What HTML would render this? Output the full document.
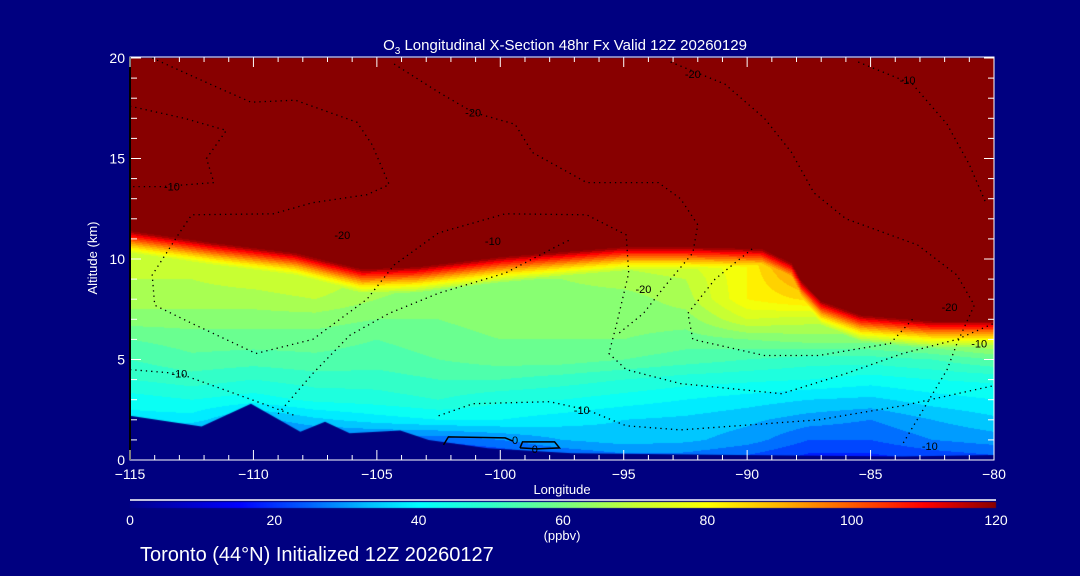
<!DOCTYPE html>
<html><head><meta charset="utf-8">
<style>
html,body{margin:0;padding:0;background:#000080;}
#wrap{position:relative;width:1080px;height:576px;background:#000080;overflow:hidden;font-family:"Liberation Sans",sans-serif;}
canvas{position:absolute;left:0;top:0;}
svg{position:absolute;left:0;top:0;}
text{fill:#fff;font-family:"Liberation Sans",sans-serif;}
</style></head>
<body>
<div id="wrap">
<canvas id="field" width="1080" height="576"></canvas>
<svg id="ov" width="1080" height="576"></svg>
</div>
<script>
// ---- data ----
const lonGrid = [-115,-112.5,-110,-107.5,-105,-102.5,-100,-97.5,-95,-92.5,-90,-87.5,-85,-82.5,-80];
const altGrid = [0,1,2,3,4,5,6,7,8,9,10];
const ozone0 = [15,15,15,15,15,15,18,22,25,25,22,18,18,20,22];
const ozone1 = [25,25,25,25,25,25,28,32,34,33,30,24,24,28,30];
const ozone2 = [38,38,30,35,38,40,40,38,36,35,33,30,28,32,35];
const ozone3 = [42,44,42,45,46,48,45,44,42,40,38,36,35,38,40];
const ozone4 = [48,50,48,50,50,52,52,50,48,46,45,44,42,44,45];
const ozone5 = [52,55,54,55,54,56,58,58,56,54,52,50,50,52,56];
const ozone6 = [56,58,58,58,56,58,60,60,60,58,60,62,62,66,72];
const ozone7 = [62,62,62,62,60,60,62,62,62,62,72,70,70,82,120];
const ozone8 = [66,66,66,68,64,62,62,62,62,66,80,85,100,125,130];
const ozone9 = [68,68,70,72,66,64,64,64,66,68,80,95,125,130,130];
const ozone10 = [70,70,72,75,70,68,68,68,70,72,80,105,130,130,130];
const tropoLon = [-115,-111.6,-108.3,-107,-105.6,-103.4,-100,-95,-92.7,-89.4,-88.2,-87.8,-87,-85.4,-82.5,-80];
const tropoAlt = [11.5,10.9,10.4,10.0,9.6,9.7,10.2,10.7,10.7,10.6,9.9,9.0,8.0,7.3,7.0,7.0];
const terrainLon = [-115,-112.1,-110.1,-108.1,-107.1,-106.1,-104.05,-102.9,-100.5,-97.1,-90.4,-83.7,-80];
const terrainAlt = [2.2,1.67,2.8,1.4,1.9,1.33,1.47,1.0,0.58,0.33,0.25,0.17,0.25];
const xTicks = [-115,-110,-105,-100,-95,-90,-85,-80];
const yTicks = [0,5,10,15,20];
const cbTicks = [0,20,40,60,80,100,120];
// contours: [lon, alt] pairs
const contourA = [[-115,17.6],[-112.8,17],[-111.1,16.4],[-111.9,15],[-111.6,13.8],[-113.7,13.6],[-115,13.6]];
const contourB = [[-114.1,20],[-111.4,18.5],[-110.1,17.8],[-108.3,17.9],[-105.8,16.8],[-105.2,15.7],[-104.5,13.7],[-105.4,13.2],[-107.6,12.8],[-109.2,12.25],[-112.5,12.2],[-113,11.3],[-114.1,9.2],[-114,7.7],[-112.5,6.8],[-109.9,5.3],[-107.6,6],[-105.4,8],[-104.3,9.7],[-102.5,11.3],[-99.8,12.25],[-96.5,12.2],[-94.9,11.2],[-94.8,9.3],[-95.3,6.7],[-95.6,5.3],[-94.9,4.5],[-92.7,3.8],[-88.6,3.3],[-86,4.3],[-83.7,5.3],[-81.5,6],[-80,6.8]];
const contourC = [[-104.3,19.7],[-102.5,18.3],[-101.1,17.3],[-99.4,16.7],[-98.7,15.3],[-96.5,13.8],[-93.6,13.8],[-92.7,13],[-92,11.7],[-92.2,10.3],[-93.3,8.7],[-94.2,7.3],[-95.3,6.2]];
const contourD = [[-93.1,19.8],[-90.9,18.7],[-89.3,17],[-88.2,15.3],[-87.3,13.3],[-86,12],[-83.1,10.7],[-81.5,9.2],[-80.8,7.7],[-81.5,5.8],[-81.9,4.5],[-83.7,0.8]];
const contourE = [[-85.5,19.8],[-83.3,18.7],[-81.9,16.7],[-81,14.7],[-80.3,12.7]];
const contourF = [[-115,4.5],[-113,4.3],[-111.2,3.5],[-109.4,2.7],[-108.3,2.2]];
const contourG = [[-102.5,2.2],[-101.1,2.8],[-98,2.9],[-96.5,2.5],[-94.9,1.7],[-92.7,1.5],[-90.4,1.7],[-87.1,2],[-83.7,2.7],[-80,3.7]];
const contourH = [[-109,2.3],[-107.6,4.3],[-106.1,6.2],[-104.5,7.3],[-102.5,8.3],[-99.8,9.3],[-97.6,10.7],[-97.1,11]];
const contourI = [[-89.8,10.5],[-91.3,9],[-92.4,7.3],[-92.2,6],[-89.3,5.2],[-87.1,5.2],[-84.2,5.8],[-83.3,7]];
const zeroA = [[-102.3,0.75],[-102.1,1.15],[-99.8,1.1],[-99.5,0.95]];
const zeroB = [[-99.2,0.6],[-99.1,0.9],[-97.8,0.9],[-97.6,0.6],[-98.5,0.55],[-99.2,0.6]];
const contourLabels = [["-10",-113.3,13.6],["-20",-101.1,17.3],["-20",-92.2,19.2],["-10",-83.5,18.9],["-20",-106.4,11.2],["-10",-100.3,10.9],["-20",-94.2,8.5],["-20",-81.8,7.6],["-10",-80.6,5.8],["-10",-113,4.3],["-10",-96.7,2.5],["-10",-82.6,0.7],["0",-99.4,1.0],["0",-98.6,0.55]];

// ---- axes ----
const X0=130,X1=994,Y0=460,Y1=58;
const xs = lon => X0 + (lon+115)/35*(X1-X0);
const ys = alt => Y0 - alt/20*(Y0-Y1);
const cbx = v => 130 + v/120*(996-130);

const rows=[ozone0,ozone1,ozone2,ozone3,ozone4,ozone5,ozone6,ozone7,ozone8,ozone9,ozone10];
function interp1(xa,ya,x){
  if(x<=xa[0]) return ya[0];
  for(let i=1;i<xa.length;i++){ if(x<=xa[i]){const t=(x-xa[i-1])/(xa[i]-xa[i-1]);return ya[i-1]+t*(ya[i]-ya[i-1]);} }
  return ya[ya.length-1];
}
function gridVal(lon,alt){
  let fi=Math.max(0,Math.min(lonGrid.length-1.0001,(lon+115)/2.5));
  let fj=Math.max(0,Math.min(altGrid.length-1.0001,alt));
  const i=Math.floor(fi),j=Math.floor(fj),u=fi-i,v=fj-j;
  const a=rows[j][i],b=rows[j][i+1],c=rows[j+1][i],d=rows[j+1][i+1];
  return (a*(1-u)+b*u)*(1-v)+(c*(1-u)+d*u)*v;
}
function ozone(lon,alt){
  const T=interp1(tropoLon,tropoAlt,lon);
  if(alt>=T) return 130;
  return Math.max(gridVal(lon,alt),125-(T-alt)*45);
}
const cstops=[[0,[0,0,140]],[15,[0,0,255]],[25,[0,100,255]],[33,[0,190,255]],[40,[0,255,255]],[50,[50,255,200]],[60,[120,255,130]],[70,[200,255,50]],[80,[255,255,0]],[90,[255,180,0]],[100,[255,90,0]],[110,[255,0,0]],[120,[136,0,0]]];
function cmap(v){
  if(v>=120) return [136,0,0];
  if(v<=0) return cstops[0][1];
  for(let k=1;k<cstops.length;k++){ if(v<=cstops[k][0]){const a=cstops[k-1],b=cstops[k];const t=(v-a[0])/(b[0]-a[0]);return [0,1,2].map(n=>Math.round(a[1][n]+t*(b[1][n]-a[1][n])));} }
  return [136,0,0];
}
// field
const cv=document.getElementById('field'),ctx=cv.getContext('2d');
const W=X1-X0,H=Y0-Y1;
const img=ctx.createImageData(W,H);
for(let py=0;py<H;py++){
  const alt=20-(py+0.5)/H*20;
  for(let px=0;px<W;px++){
    const lon=-115+(px+0.5)/W*35;
    let v=ozone(lon,alt);
    v=Math.floor(v/4)*4+2;
    const c=cmap(v);const o=(py*W+px)*4;
    img.data[o]=c[0];img.data[o+1]=c[1];img.data[o+2]=c[2];img.data[o+3]=255;
  }
}
ctx.putImageData(img,X0,Y1);
// terrain
ctx.fillStyle='#000080';
ctx.beginPath();ctx.moveTo(xs(-115),Y0);
terrainLon.forEach((l,k)=>ctx.lineTo(xs(l),ys(terrainAlt[k])));
ctx.lineTo(xs(-80),Y0);ctx.closePath();ctx.fill();
// colorbar
for(let x=130;x<996;x++){const c=cmap((x-130)/(996-130)*120);ctx.fillStyle=`rgb(${c[0]},${c[1]},${c[2]})`;ctx.fillRect(x,502,1,6);}

// ---- svg overlay ----
const NS='http://www.w3.org/2000/svg',svg=document.getElementById('ov');
function mk(tag,attrs,txt){const e=document.createElementNS(NS,tag);for(const k in attrs)e.setAttribute(k,attrs[k]);if(txt!==undefined)e.textContent=txt;svg.appendChild(e);return e;}
function line(x1,y1,x2,y2,col,w){return mk('line',{x1,y1,x2,y2,stroke:col,'stroke-width':w||1});}

[contourA,contourB,contourC,contourD,contourE,contourF,contourG,contourH,contourI].forEach((c,k)=>{
  const p=mk('polyline',{points:c.map(q=>xs(q[0]).toFixed(1)+','+ys(q[1]).toFixed(1)).join(' '),fill:'none',stroke:'#000','stroke-width':1.3,'stroke-dasharray':'1.3,4'});
  
  
});
[zeroA,zeroB].forEach((c,k)=>{
  const p=mk('polyline',{points:c.map(q=>xs(q[0]).toFixed(1)+','+ys(q[1]).toFixed(1)).join(' '),fill:'none',stroke:'#000','stroke-width':1.5});
  
  
});
contourLabels.forEach(l=>{
  const t=mk('text',{x:xs(l[1]),y:ys(l[2])+4,'text-anchor':'middle','font-size':11,style:'fill:#000'},l[0]);
  
  
});

// frame
const fr=mk('rect',{x:X0,y:57,width:X1-X0,height:Y0-57,fill:'none',stroke:'#fff','stroke-width':1});


line(X0,57,X0,Y0,'#000',2);
for(let l=-115;l<=-80;l++){const maj=(l%5===0);line(xs(l),Y0,xs(l),Y0-(maj?10:5),'#fff',1);line(xs(l),57,xs(l),57+(maj?10:5),'#fff',1);}
for(let a=0;a<=20;a++){const maj=(a%5===0);line(X0+1,ys(a),X0+1+(maj?10:6),ys(a),'#fff',1);line(X1,ys(a),X1-(maj?10:6),ys(a),'#fff',1);}
xTicks.forEach(v=>{const t=mk('text',{x:xs(v),y:479,'text-anchor':'middle','font-size':14},v<0?'\u2212'+Math.abs(v):v);
  
  });
yTicks.forEach(v=>{const t=mk('text',{x:125,y:ys(v)+5,'text-anchor':'end','font-size':14},v);
  
  });
cbTicks.forEach(v=>{const t=mk('text',{x:cbx(v),y:525,'text-anchor':'middle','font-size':14},v);
  
  });
line(130,500,996,500,'#fff',1.5);
</script>
<svg width="1080" height="576" style="position:absolute;left:0;top:0;pointer-events:none">
<text x="565" y="50" text-anchor="middle" font-size="15">O<tspan font-size="10" dy="4">3</tspan><tspan dy="-4"> Longitudinal X-Section 48hr  Fx Valid 12Z 20260129</tspan></text>
<text x="0" y="0" transform="translate(97,258) rotate(-90)" text-anchor="middle" font-size="13">Altitude (km)</text>
<text x="562" y="494" text-anchor="middle" font-size="13">Longitude</text>
<text x="562" y="540" text-anchor="middle" font-size="13">(ppbv)</text>
<text x="140" y="561" font-size="20">Toronto (44°N) Initialized 12Z 20260127</text>
</svg>
</body></html>
